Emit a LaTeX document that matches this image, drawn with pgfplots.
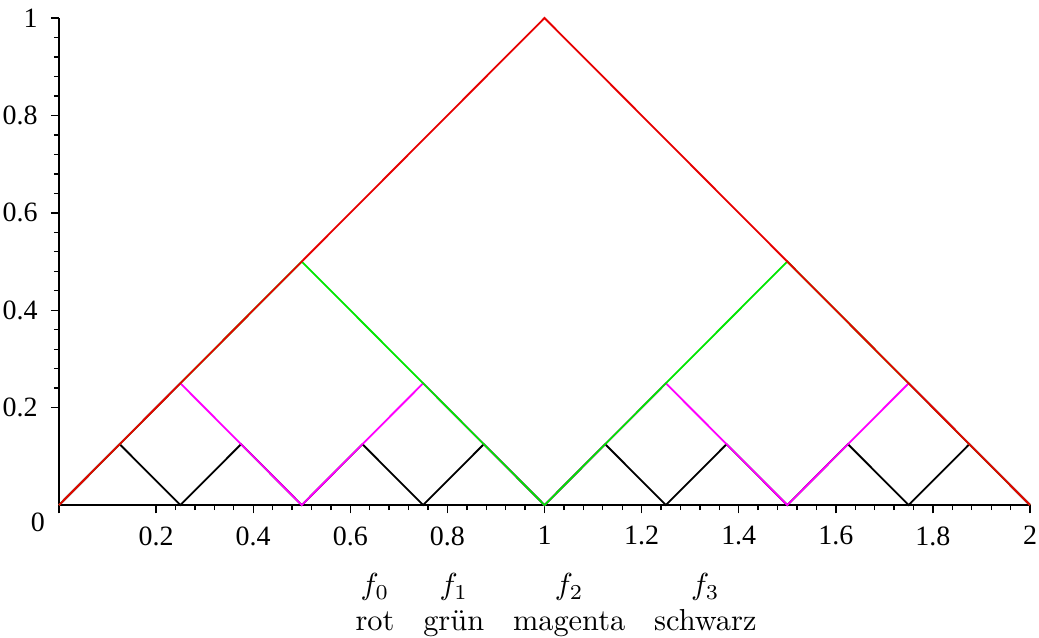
\documentclass[border=0pt]{standalone}
\usepackage{fontspec}
\usepackage{pgfplots}
\pgfplotsset{compat=1.18}
\newfontfamily\timesfont{Liberation Serif}
\definecolor{fred}{RGB}{230,0,0}
\definecolor{fgreen}{RGB}{0,230,0}
\definecolor{fmag}{RGB}{255,0,255}
\begin{document}
\begin{tikzpicture}
\begin{axis}[
  scale only axis,
  width=319.6pt, height=160.3pt,
  xmin=0, xmax=2, ymin=0, ymax=1,
  axis lines*=left,
  axis line style={black, line width=0.5pt},
  clip=false,
  xtick={0.2,0.4,0.6,0.8,1,1.2,1.4,1.6,1.8,2},
  ytick={0.2,0.4,0.6,0.8,1},
  minor x tick num=4, minor y tick num=4,
  extra x ticks={0}, extra x tick labels={},
  tick align=outside,
  major tick length=2.7pt, minor tick length=1.7pt,
  tick style={black, line width=0.45pt},
  /pgf/number format/assume math mode=true,
  ticklabel style={font=\timesfont\fontsize{9.2}{11}\selectfont},
  xticklabel style={yshift=-0.8pt},
  yticklabel style={xshift=-0.8pt},
  every axis plot/.append style={line width=0.6pt},
]
\addplot[black] coordinates {(0,0) (0.125,0.125) (0.25,0) (0.375,0.125) (0.5,0) (0.625,0.125) (0.75,0) (0.875,0.125) (1,0) (1.125,0.125) (1.25,0) (1.375,0.125) (1.5,0) (1.625,0.125) (1.75,0) (1.875,0.125) (2,0)};
\addplot[fmag] coordinates {(0,0) (0.25,0.25) (0.5,0) (0.75,0.25) (1,0) (1.25,0.25) (1.5,0) (1.75,0.25) (2,0)};
\addplot[fgreen] coordinates {(0,0) (0.5,0.5) (1,0) (1.5,0.5) (2,0)};
\addplot[fred] coordinates {(0,0) (1,1) (2,0)};
\node[anchor=center, inner sep=0pt, font=\timesfont\fontsize{9.2}{11}\selectfont] at (axis cs:-0.0433,-0.035) {0};
\node[anchor=north, inner sep=0pt] at (axis cs:1.0237,-0.130) {\setlength{\tabcolsep}{4.75pt}\begin{tabular}{cccc}$f_0$ & $f_1$ & $f_2$ & $f_3$\\ rot & grün & magenta & schwarz\end{tabular}};
\coordinate (bl) at (axis cs:-0.1215,-0.271);
\coordinate (tr) at (axis cs:2.0185,1.037);
\end{axis}
\pgfresetboundingbox
\path (bl) rectangle (tr);
\end{tikzpicture}
\end{document}
